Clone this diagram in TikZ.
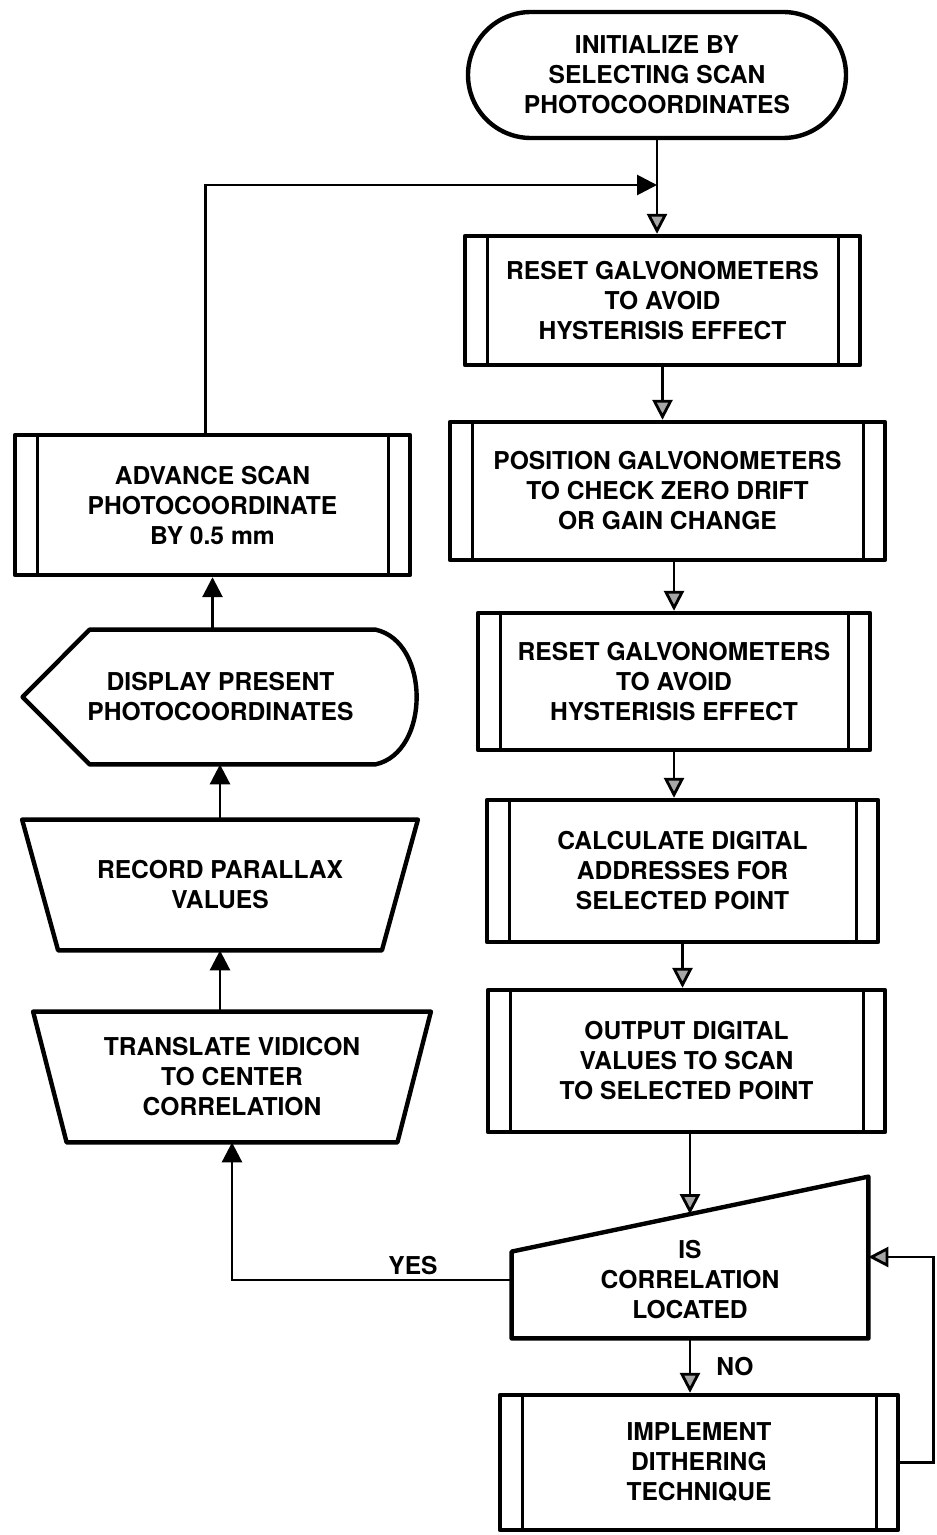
\documentclass[tikz,border=0pt]{standalone}
\usepackage{fontspec}
\setmainfont{TeX Gyre Heros}
\usetikzlibrary{arrows.meta,shapes.misc}
\begin{document}
\begin{tikzpicture}[x=0.5pt,y=-0.5pt,
  txt/.style={font=\fontsize{12.3}{15}\selectfont\bfseries, align=center, inner sep=0pt},
  shp/.style={txt, line width=2.2pt, line join=round},
  pp/.style={shp, draw, rectangle,
    path picture={\draw[line width=1.5pt]
      ([xshift=11pt]path picture bounding box.north west) -- ([xshift=11pt]path picture bounding box.south west)
      ([xshift=-11pt]path picture bounding box.north east) -- ([xshift=-11pt]path picture bounding box.south east);}},
  term/.style={shp, draw, rounded rectangle},
  hid/.style={txt, rectangle},
  outl/.style={line width=2.2pt, line join=round},
  con/.style={line width=1.4pt},
  arr/.style={con, -{Triangle[width=10pt,length=10pt,fill=gray!70]}},
  arrb/.style={con, -{Triangle[width=10pt,length=10pt,fill=black]}}
]
\useasboundingbox (0,0) rectangle (936,1535);

% right column
\node[term, minimum width=189pt, minimum height=63pt] (start) at (657,75) {INITIALIZE BY\\SELECTING SCAN\\PHOTOCOORDINATES};
\node[pp, minimum width=197.5pt, minimum height=64.5pt] (b1) at (662.5,300.5) {RESET GALVONOMETERS\\TO AVOID\\HYSTERISIS EFFECT};
\node[pp, minimum width=217.5pt, minimum height=69pt] (b2) at (667.5,491) {POSITION GALVONOMETERS\\TO CHECK ZERO DRIFT\\OR GAIN CHANGE};
\node[pp, minimum width=196pt, minimum height=68.5pt] (b3) at (674,681.5) {RESET GALVONOMETERS\\TO AVOID\\HYSTERISIS EFFECT};
\node[pp, minimum width=195.5pt, minimum height=71pt] (b4) at (682.5,871) {CALCULATE DIGITAL\\ADDRESSES FOR\\SELECTED POINT};
\node[pp, minimum width=198.5pt, minimum height=71pt] (b5) at (686.5,1061) {OUTPUT DIGITAL\\VALUES TO SCAN\\TO SELECTED POINT};
\node[hid, minimum width=178pt, minimum height=58pt] (dec) at (690,1280) {IS\\CORRELATION\\LOCATED};
\draw[outl] (dec.south west) -- (dec.south east) -- ([yshift=22.5pt]dec.north east) -- ([yshift=-15pt]dec.north west) -- cycle;
\coordinate (dectop) at ([yshift=3.75pt]dec.north);
\coordinate (decr) at ([yshift=11.5pt]dec.east);
\node[pp, minimum width=199pt, minimum height=67.5pt] (b6) at (699,1462.5) {IMPLEMENT\\DITHERING\\TECHNIQUE};

% left column
\node[pp, minimum width=197.5pt, minimum height=70pt] (adv) at (212.5,505) {ADVANCE SCAN\\PHOTOCOORDINATE\\BY 0.5 mm};
\node[hid, minimum width=197.5pt, minimum height=67pt] (disp) at (220.5,697) {DISPLAY PRESENT\\PHOTOCOORDINATES};
\draw[outl] (disp.west) -- ([xshift=33.5pt]disp.north west) -- ([xshift=-21.5pt]disp.north east)
  .. controls ([xshift=6pt,yshift=-6pt]disp.north east) and ([xshift=6pt,yshift=6pt]disp.south east) .. ([xshift=-21.5pt]disp.south east)
  -- ([xshift=33.5pt]disp.south west) -- cycle;
\node[hid, minimum width=197.5pt, minimum height=65pt] (rec) at (220,885) {RECORD PARALLAX\\VALUES};
\draw[outl] (rec.north west) -- (rec.north east) -- ([xshift=-18pt]rec.south east) -- ([xshift=18pt]rec.south west) -- cycle;
\node[hid, minimum width=198.5pt, minimum height=65pt] (tra) at (232,1077) {TRANSLATE VIDICON\\TO CENTER\\CORRELATION};
\draw[outl] (tra.north west) -- (tra.north east) -- ([xshift=-16.75pt]tra.south east) -- ([xshift=16.75pt]tra.south west) -- cycle;

% connectors
\coordinate (junc) at (start.south |- 0,185);
\coordinate (advtop) at ([xshift=-3.5pt]adv.north);
\draw[arr] (start.south) -- (start.south |- b1.north);
\draw[arrb] (advtop) -- (advtop |- junc) -- (junc);
\draw[arr] (b1.south) -- (b1.south |- b2.north);
\draw[arr] (b2.south -| b3.north) -- (b3.north);
\draw[arr] (b3.south) -- (b3.south |- b4.north);
\draw[arr] (b4.south) -- (b4.south |- b5.north);
\draw[arr] (b5.south -| dectop) -- (dectop);
\draw[arr] (dec.south) -- (dec.south |- b6.north);
\draw[arr] (b6.east) -- ++(16.5pt,0) |- (decr);
\draw[arrb] (dec.west) -| (tra.south);
\draw[arrb] (rec.south |- tra.north) -- (rec.south);
\draw[arrb] (rec.north) -- (rec.north |- disp.south);
\draw[arrb] (adv.south |- disp.north) -- (adv.south);

\node[txt] (yes) at (413,1266) {YES};
\node[txt] (no) at (735,1367) {NO};
\end{tikzpicture}
\end{document}
